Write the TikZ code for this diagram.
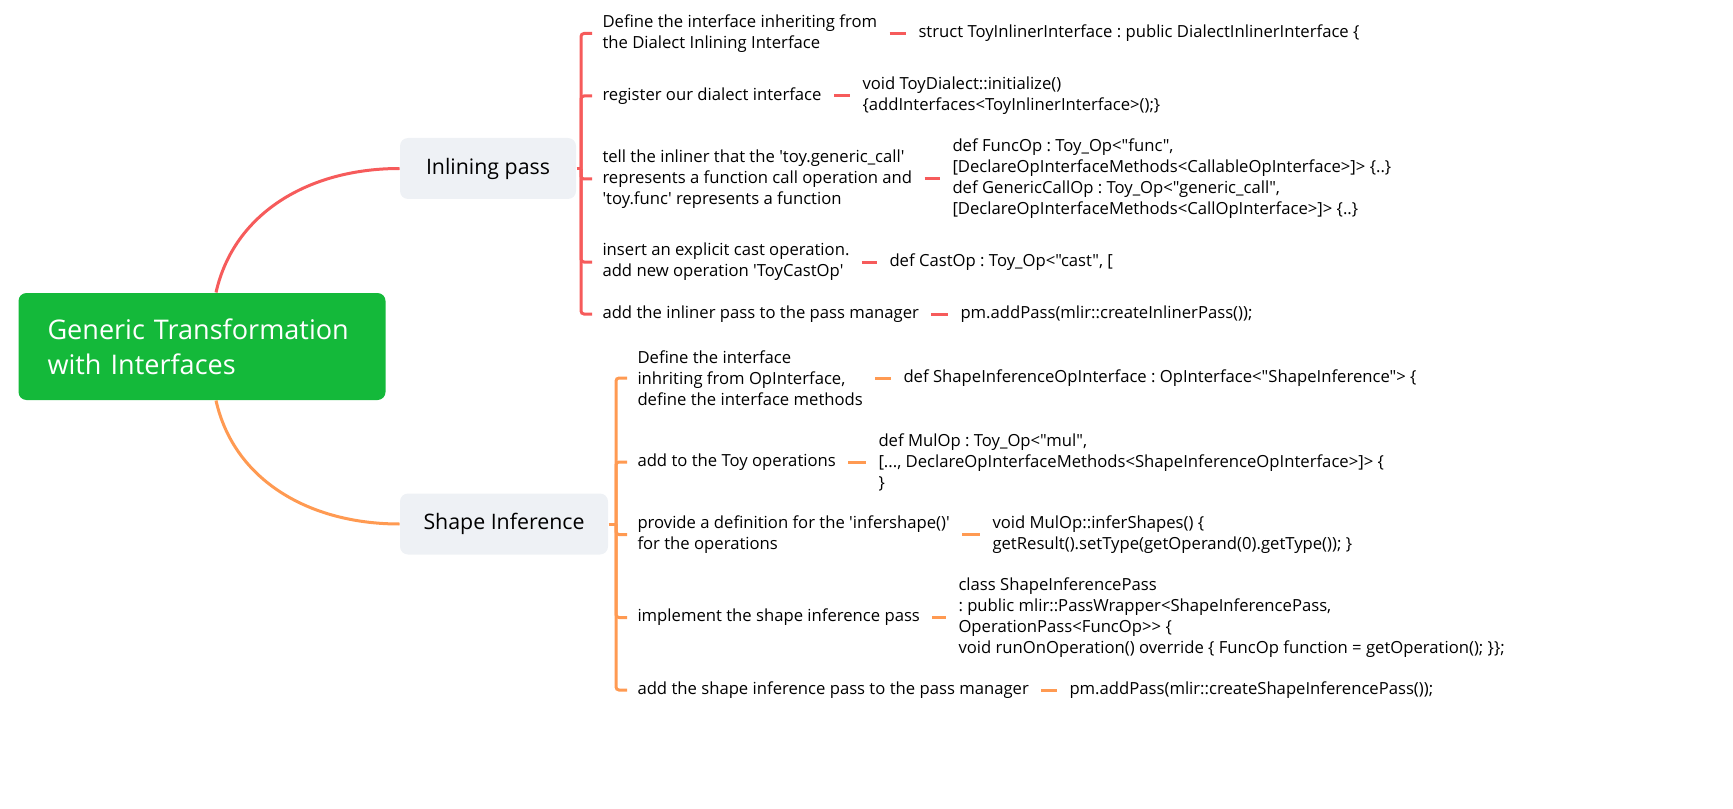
\documentclass[tikz,border=0pt]{standalone}
\usepackage{fontspec}
\newfontfamily\mapfont{Open Sans}
\newcommand{\squote}{\textquotesingle}
\frenchspacing

\definecolor{rootgreen}{RGB}{20,185,58}
\definecolor{inlred}{RGB}{246,91,91}
\definecolor{shporange}{RGB}{255,154,82}
\definecolor{topicgray}{RGB}{238,241,245}

\tikzset{every picture/.style={line width=0.75pt}}

\begin{document}
\begin{tikzpicture}[x=0.75pt,y=0.75pt,yscale=-1,xscale=1,
  rootbox/.style={fill=rootgreen,rounded corners=6pt,text=white,anchor=west,align=left,
    inner xsep=21.75pt,text width=231.75pt,minimum height=80.25pt,
    font=\mapfont\fontsize{20.3}{26.25}\selectfont},
  topicbox/.style={fill=topicgray,rounded corners=6pt,inner xsep=0pt,minimum height=45.75pt,
    font=\mapfont\fontsize{16}{19}\selectfont},
  leaf/.style={anchor=west,align=left,inner xsep=7.5pt,inner ysep=1pt,
    font=\mapfont\fontsize{12.5}{15.75}\selectfont},
  redline/.style={draw=inlred,line width=2.25pt},
  orangeline/.style={draw=shporange,line width=2.25pt},
  forkline/.style={rounded corners=2.25pt},
  dashlink/.style={shorten <=1.5pt,shorten >=1.5pt}]
\useasboundingbox (0,0) rectangle (1733,809);

% Text Node
\draw (18,346.5) node (root) [rootbox] {Generic Transformation\\with Interfaces};
% Text Node
\draw (488,168.5) node (inl) [topicbox,minimum width=132pt] {Inlining pass};
% Text Node
\draw (504,524) node (shp) [topicbox,minimum width=156pt] {Shape Inference};

%Curve Lines
\draw [redline] ([xshift=10.5pt]root.north) .. controls +(18,-80) and +(-90,0) .. (inl.west) ;
%Curve Lines
\draw [orangeline] ([xshift=10.5pt]root.south) .. controls +(18,80) and +(-90,0) .. (shp.west) ;

% Text Node
\draw (592,33.5) node (i1) [leaf] {Define the interface inheriting from\\the Dialect Inlining Interface};
\draw (908,33.5) node (c1) [leaf] {struct ToyInlinerInterface : public DialectInlinerInterface \{};
% Text Node
\draw (592,96) node (i2) [leaf] {register our dialect interface};
\draw (852,96) node (c2) [leaf] {void ToyDialect::initialize()\\\{addInterfaces<ToyInlinerInterface>();\}};
% Text Node
\draw (592,179) node (i3) [leaf] {tell the inliner that the \squote toy.generic\_call\squote\\represents a function call operation and\\\squote toy.func\squote{} represents a function};
\draw (942,179) node (c3) [leaf] {def FuncOp : Toy\_Op<"func",\\{}[DeclareOpInterfaceMethods<CallableOpInterface>]> \{..\}\\def GenericCallOp : Toy\_Op<"generic\_call",\\{}[DeclareOpInterfaceMethods<CallOpInterface>]> \{..\}};
% Text Node
\draw (592,262) node (i4) [leaf] {insert an explicit cast operation.\\add new operation \squote ToyCastOp\squote};
\draw (879,262) node (c4) [leaf] {def CastOp : Toy\_Op<"cast", [};
% Text Node
\draw (592,314) node (i5) [leaf] {add the inliner pass to the pass manager};
\draw (950,314) node (c5) [leaf] {pm.addPass(mlir::createInlinerPass());};

% Text Node
\draw (627,378) node (s1) [leaf] {Define the interface\\inhriting from OpInterface,\\define the interface methods};
\draw (893,378) node (d1) [leaf] {def ShapeInferenceOpInterface : OpInterface<"ShapeInference"> \{};
% Text Node
\draw (627,462) node (s2) [leaf] {add to the Toy operations};
\draw (868,462) node (d2) [leaf] {def MulOp : Toy\_Op<"mul",\\{}[..., DeclareOpInterfaceMethods<ShapeInferenceOpInterface>]> \{\\\}};
% Text Node
\draw (627,534.5) node (s3) [leaf] {provide a definition for the \squote infershape()\squote\\for the operations};
\draw (982,534.5) node (d3) [leaf] {void MulOp::inferShapes() \{\\getResult().setType(getOperand(0).getType()); \}};
% Text Node
\draw (627,617.5) node (s4) [leaf] {implement the shape inference pass};
\draw (948,617.5) node (d4) [leaf] {class ShapeInferencePass\\: public mlir::PassWrapper<ShapeInferencePass,\\OperationPass<FuncOp>> \{\\void runOnOperation() override \{ FuncOp function = getOperation(); \}\};};
% Text Node
\draw (627,690) node (s5) [leaf] {add the shape inference pass to the pass manager};
\draw (1059,690) node (d5) [leaf] {pm.addPass(mlir::createShapeInferencePass());};

%Straight Lines
\coordinate (inlfork) at (581,168.5);
\draw [redline] (inl.east) -- (inlfork) ;
\foreach \leafname in {i1,i2,i3,i4,i5}
  \draw [redline,forkline] (inlfork) |- (\leafname.west) ;
\foreach \leafname/\codename in {i1/c1,i2/c2,i3/c3,i4/c4,i5/c5}
  \draw [redline,dashlink] (\leafname.east) -- (\codename.west) ;

%Straight Lines
\coordinate (shpfork) at (616,524);
\draw [orangeline] (shp.east) -- (shpfork) ;
\foreach \leafname in {s1,s2,s3,s4,s5}
  \draw [orangeline,forkline] (shpfork) |- (\leafname.west) ;
\foreach \leafname/\codename in {s1/d1,s2/d2,s3/d3,s4/d4,s5/d5}
  \draw [orangeline,dashlink] (\leafname.east) -- (\codename.west) ;

\end{tikzpicture}
\end{document}
